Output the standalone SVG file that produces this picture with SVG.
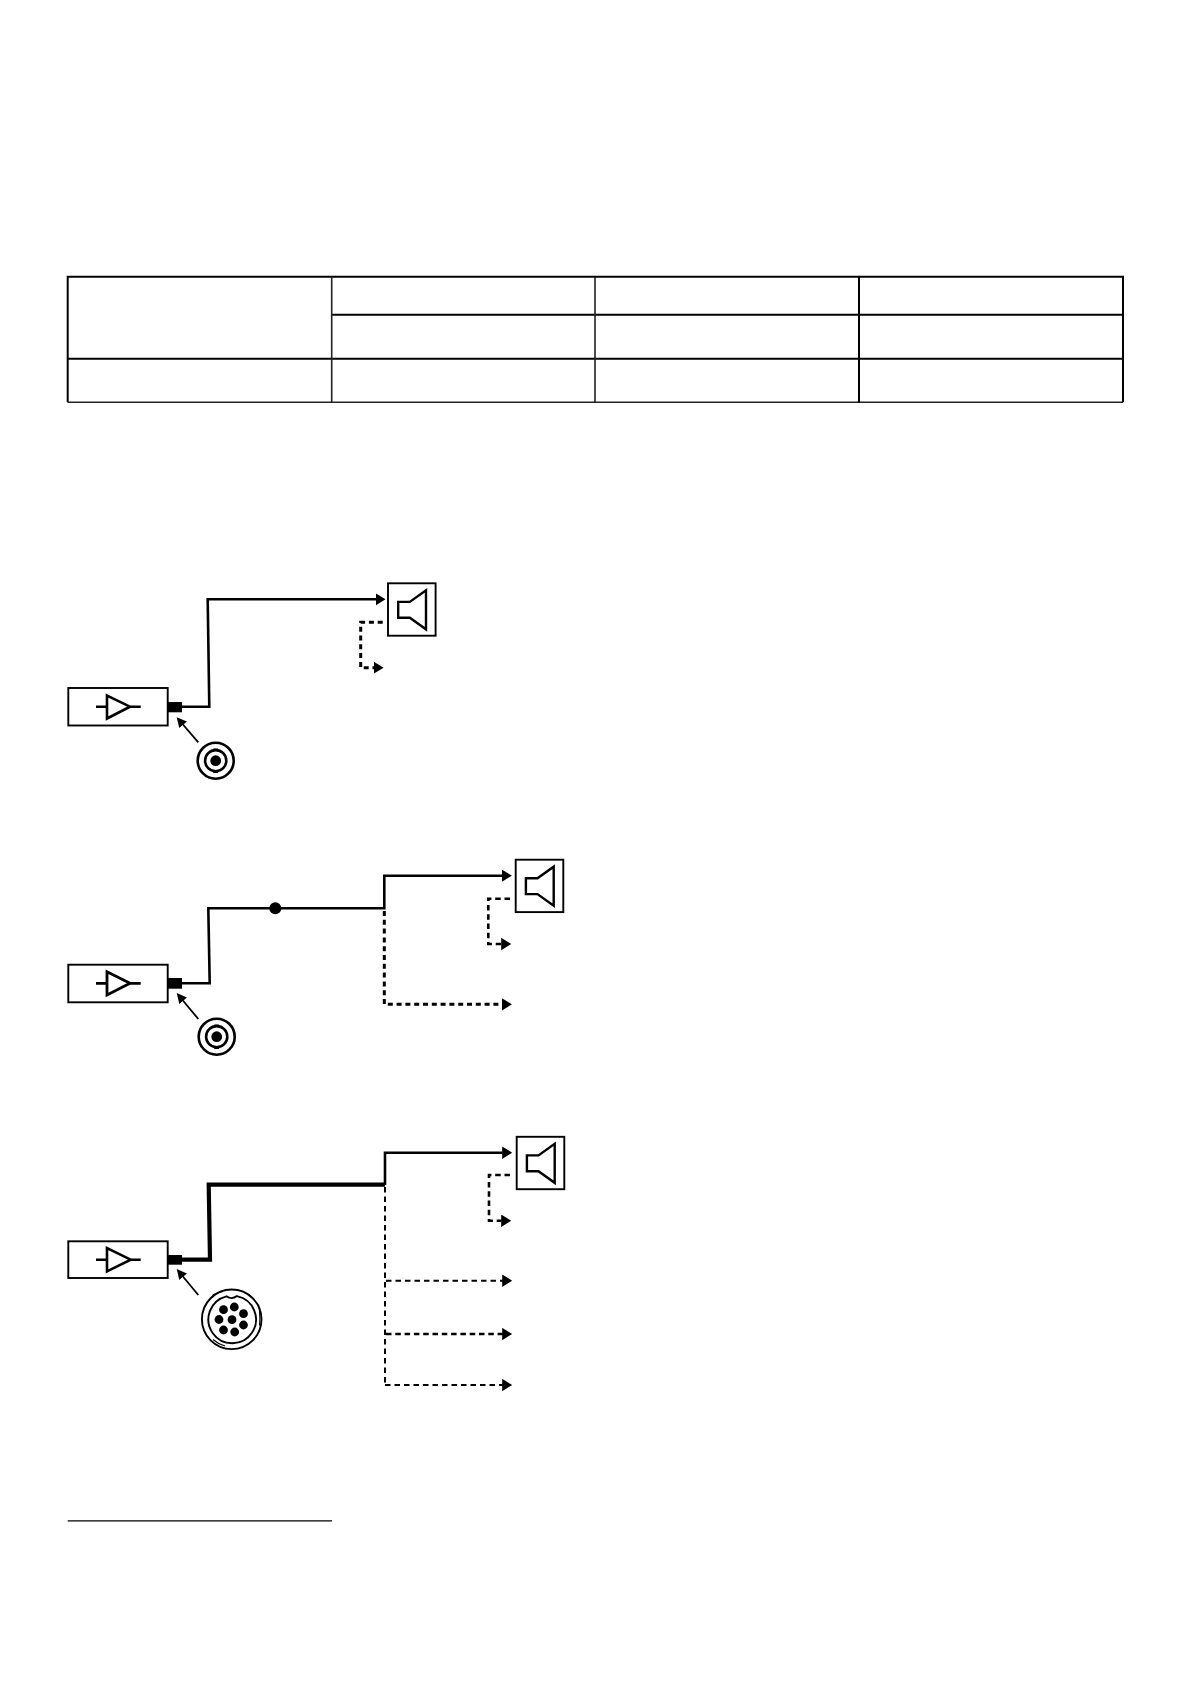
<svg xmlns="http://www.w3.org/2000/svg" xmlns:xlink="http://www.w3.org/1999/xlink" width="1191" height="1684" viewBox="0 0 1191 1684">
<style>
.ln{fill:none;stroke:#000;stroke-linejoin:miter}
.box{fill:#fff;stroke:#000;stroke-width:1.9}
.tbl{stroke:#000;stroke-width:2;fill:none}
.tblg{stroke:#222;stroke-width:1.6;fill:none}
.w2{stroke-width:2.6}
.w15{stroke-width:1.8}
.w3{stroke-width:4.2}
.dh{stroke-dasharray:5 3.8;stroke-width:3}
.dt{stroke-dasharray:5.5 4;stroke-width:2}
.dm{stroke-dasharray:5.5 3.8;stroke-width:2.6}
</style>
<defs>
<marker id="ah" markerUnits="userSpaceOnUse" markerWidth="11" markerHeight="13" refX="0.5" refY="6.2" orient="auto"><path d="M0,0L10,6.2L0,12.4Z"/></marker>
<marker id="as" markerUnits="userSpaceOnUse" markerWidth="11" markerHeight="11" refX="1" refY="5" orient="auto"><path d="M0,0L10,5L0,10Z"/></marker>
<g id="spk">
<rect class="box" x="0" y="0" width="47.6" height="52.4"/>
<path class="ln" style="stroke-width:2.4" d="M10.2,18.6H21.8L38,7V46L21.8,34.4H10.2Z"/>
</g>
<g id="bnc">
<circle class="ln w2" r="18"/>
<circle class="ln w2" r="10.6"/>
<circle r="5.4"/>
<path d="M-2.4,-12.2H2.4V-9.6H-2.4ZM-2.4,9.6H2.4V12.2H-2.4Z"/>
</g>
</defs>

<g id="table">
<path class="tbl" d="M67.7,402.3V276.8H1123V402.3"/>
<path class="tblg" d="M67.7,402.3H1123"/>
<path class="tbl" d="M331.7,314.8H1123M67.7,358.8H1123M859,276.8V402.3"/>
<path class="tblg" d="M331.7,276.8V402.3M595,276.8V402.3"/>
</g>

<g id="connectors">
<path class="ln w2" marker-end="url(#ah)" d="M182,706.7H209.3L207.7,599.3H376"/>
<path class="ln dh" marker-end="url(#ah)" d="M382.7,622.3H360.7V667.7H374"/>
<path class="ln w15" marker-end="url(#as)" d="M198.3,742.3L182.5,724"/>

<path class="ln w2" d="M182,983.3H209.7L208.3,908.3H384.3V875.7H502.3" marker-end="url(#ah)"/>
<path class="ln dm" marker-end="url(#ah)" d="M510,898.7H488.3V944H501.7"/>
<path class="ln dh" marker-end="url(#ah)" d="M384.3,911V1004.3H502.3"/>
<path class="ln w15" marker-end="url(#as)" d="M198.3,1019L182.5,1000"/>

<path class="ln w3" d="M182,1259.7H210L208.7,1184.7H385"/>
<path class="ln w2" marker-end="url(#ah)" d="M385,1185V1152.7H502.7"/>
<path class="ln dm" marker-end="url(#ah)" d="M510,1175H489V1220.7H501.7"/>
<path class="ln dt" d="M385,1187V1385"/>
<path class="ln dt" marker-end="url(#ah)" d="M386,1280.7H502.7"/>
<path class="ln dm" marker-end="url(#ah)" d="M386,1334H502.7"/>
<path class="ln dt" marker-end="url(#ah)" d="M385,1385H502.7"/>
<path class="ln w15" marker-end="url(#as)" d="M198.3,1295L182.5,1276"/>
</g>

<g id="amp1">
<rect class="box" x="68.3" y="688" width="99.4" height="37.5"/>
<path class="ln w2" d="M96,706.7H107M130,706.7H140.7M107,695.5V718.5L130,706.7Z"/>
<rect x="167.7" y="702" width="14.3" height="10.3"/>
</g>
<g id="speaker1"><use xlink:href="#spk" href="#spk" x="388" y="583.3"/></g>
<g id="socket1"><use xlink:href="#bnc" href="#bnc" x="215.7" y="760.7"/></g>

<g id="amp2">
<rect class="box" x="68.3" y="964.7" width="99.4" height="37.6"/>
<path class="ln" style="stroke-width:2.8" d="M96,983.3H107M130,983.3H140.7M107,971.7V995L130,983.3Z"/>
<rect x="167.7" y="978" width="14.3" height="10.7"/>
</g>
<g id="junction"><circle cx="275.3" cy="908.3" r="6"/></g>
<g id="speaker2"><use xlink:href="#spk" href="#spk" x="515.7" y="859.7"/></g>
<g id="socket2"><use xlink:href="#bnc" href="#bnc" x="216.7" y="1036.7"/></g>

<g id="amp3">
<rect class="box" x="68.3" y="1241.3" width="99.4" height="36.7"/>
<path class="ln w2" d="M96,1259.7H107M130.7,1259.7H140.7M107,1248V1271.3L130.7,1259.7Z"/>
<rect x="167.7" y="1255" width="14.3" height="9.7"/>
</g>
<g id="speaker3"><use xlink:href="#spk" href="#spk" x="516.7" y="1136.8"/></g>
<g id="socket3">
<circle class="ln" style="stroke-width:1.9" cx="231.7" cy="1319.3" r="29.8"/>
<path class="ln" style="stroke-width:1.9" d="M226.5,1296.3A23.8,23.8 0 1 0 237,1296.1Q231.5,1300 226.5,1296.3Z"/>
<path class="ln" style="stroke-width:1.1" d="M212.5,1295.5Q217,1292.5 223,1291.5M258.5,1304.5Q260.5,1313 259.5,1325.5M213,1339.5Q218,1344 225,1346"/>
<circle cx="223.5" cy="1309.7" r="4.4"/>
<circle cx="234.3" cy="1307" r="4.4"/>
<circle cx="243.5" cy="1313.7" r="4.4"/>
<circle cx="219" cy="1319.5" r="4.4"/>
<circle cx="232" cy="1319.7" r="4.4"/>
<circle cx="243.5" cy="1325" r="4.4"/>
<circle cx="223.5" cy="1330" r="4.4"/>
<circle cx="234.7" cy="1332" r="4.4"/>
</g>

<g id="footnote-rule"><path class="ln" style="stroke-width:1.2" d="M67.7,1520.8H332"/></g>
</svg>
